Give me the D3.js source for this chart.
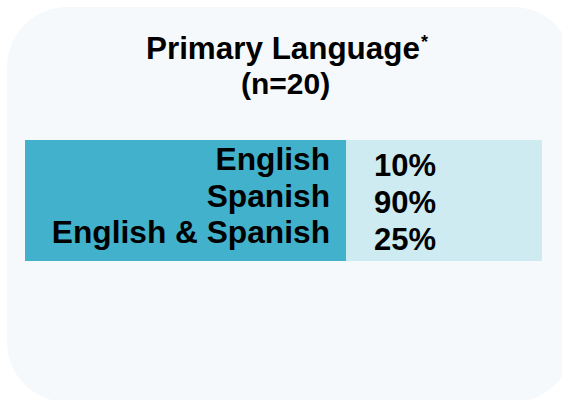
<!DOCTYPE html>
<html lang="en">
<head>
  <meta charset="utf-8">
  <title>Primary Language</title>
  <style>
    body { margin: 0; background: #fff; }
    text { font-family: "Liberation Sans", Arial, sans-serif; font-weight: bold; fill: #000; }
  </style>
</head>
<body>
  <script src="https://d3js.org/d3.v7.min.js"></script>
  <script>
    var width = 562;
    var height = 400;

    // data
    var languages = ["English", "Spanish", "English & Spanish"];
    var shares = [10, 90, 25];

    var svg = d3.select("body").append("svg")
      .attr("width", width)
      .attr("height", height);

    // card background
    svg.append("rect")
      .attr("x", 7).attr("y", 7)
      .attr("width", 566).attr("height", 395)
      .attr("rx", 60).attr("ry", 60)
      .attr("fill", "#f5f9fb");

    // title
    svg.append("text")
      .attr("x", 146).attr("y", 59)
      .style("font-size", "31.4px")
      .text("Primary Language");

    svg.append("text")
      .attr("x", 421).attr("y", 48)
      .style("font-size", "18px")
      .text("*");

    svg.append("text")
      .attr("x", 241).attr("y", 94)
      .style("font-size", "30px")
      .text("(n=20)");

    // table
    var tableTop = 140, tableBottom = 261;
    var leftX = 25, midX = 346, rightX = 542;

    // baselines of the rows
    var yLabel = d3.scalePoint().domain(languages).range([170, 243]);
    var yValue = d3.scalePoint().domain(languages).range([176, 249.5]);

    svg.append("rect")
      .attr("x", leftX).attr("y", tableTop)
      .attr("width", midX - leftX).attr("height", tableBottom - tableTop)
      .attr("fill", "#42b1cb");

    svg.append("rect")
      .attr("x", midX).attr("y", tableTop)
      .attr("width", rightX - midX).attr("height", tableBottom - tableTop)
      .attr("fill", "#cdebf0");

    var rows = svg.append("g").selectAll("g")
      .data(languages)
      .enter().append("g");

    rows.append("text")
      .attr("x", 330)
      .attr("y", function(d) { return yLabel(d); })
      .attr("text-anchor", "end")
      .style("font-size", "31.7px")
      .text(function(d) { return d; });

    rows.append("text")
      .attr("x", 374)
      .attr("y", function(d) { return yValue(d); })
      .style("font-size", "31px")
      .text(function(d, i) { return shares[i] + "%"; });
  </script>
</body>
</html>
